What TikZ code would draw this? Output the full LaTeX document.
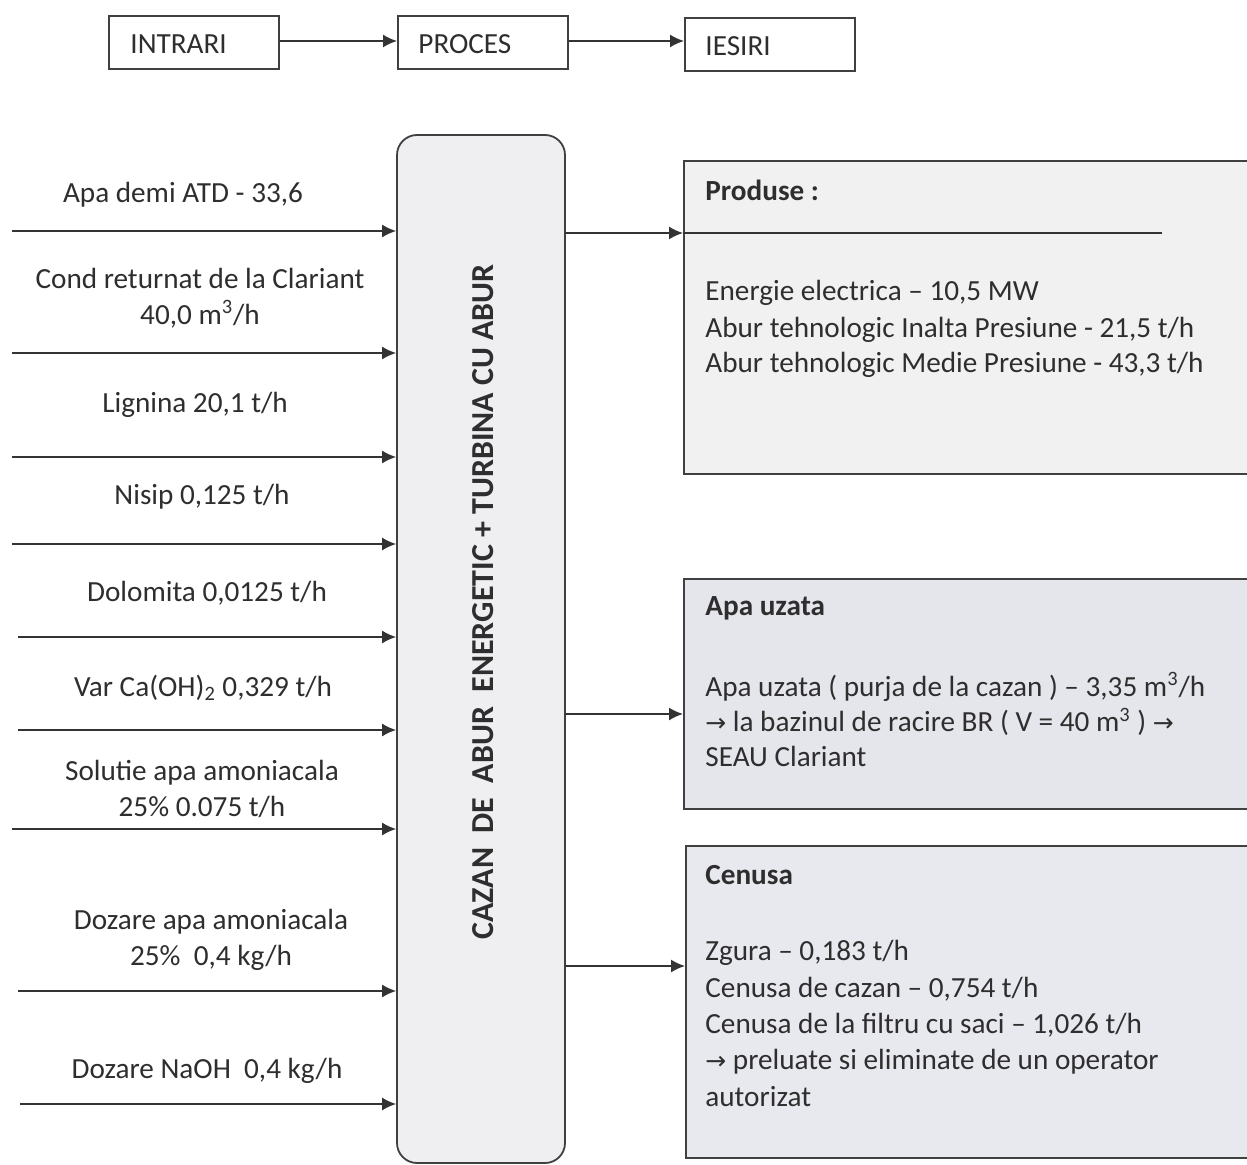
\documentclass[tikz,border=0pt]{standalone}
\usepackage{fontspec}
\setmainfont{Carlito}
\newfontfamily\arrfont{DejaVu Sans}
\usetikzlibrary{arrows.meta}
\newcommand{\ar}{{\arrfont\fontsize{12.5}{15}\selectfont →}}
\definecolor{procfill}{HTML}{EFEFF2}
\definecolor{prodfill}{HTML}{F1F1F1}
\definecolor{apafill}{HTML}{E5E5EC}
\definecolor{cenfill}{HTML}{E8E8EF}
\definecolor{ink}{HTML}{2E2E2E}
\begin{document}
\begin{tikzpicture}[x=0.5pt,y=-0.5pt,
  every node/.style={inner sep=0pt, text=ink},
  txt/.style={font=\fontsize{14.6}{18}\selectfont, align=center},
  rtxt/.style={font=\fontsize{14.6}{18}\selectfont, anchor=west},
  htxt/.style={font=\fontsize{14.6}{18}\selectfont\bfseries, anchor=west},
  topbox/.style={draw=black!75, line width=0.9pt, minimum width=85pt, minimum height=26.5pt, anchor=north west},
  outbox/.style={draw=black!75, line width=0.9pt, anchor=north west},
  arr/.style={draw=black!80, line width=0.8pt, -{Latex[length=7pt,width=6.5pt]}},
  ln/.style={draw=black!80, line width=0.8pt}
]
\clip (0,0) rectangle (1247,1165);
\fill[white] (0,0) rectangle (1247,1165);

% top row
\node[topbox] (tin) at (108,15) {};
\node[topbox] (tproc) at (397,15) {};
\node[topbox] (tout) at (684,17) {};
\node[txt, anchor=west] (tinl) at (130,44) {INTRARI};
\node[txt, anchor=west] (tprocl) at (418,44) {PROCES};
\node[txt, anchor=west] (toutl) at (705,46) {IESIRI};
\draw[arr] (tin.east |- 0,41) -- (tproc.west |- 0,41);
\draw[arr] (tproc.east |- 0,41) -- (tout.west |- 0,41);

% process box
\node[draw=black!75, line width=0.9pt, fill=procfill, rounded corners=10pt,
      minimum width=84pt, minimum height=514pt] (proc) at (481,649) {};
\node[rotate=90, font=\fontsize{16}{18}\selectfont\bfseries] (proct) at (483,602)
  {CAZAN\ \ DE\ \ ABUR\ \ ENERGETIC + TURBINA CU ABUR};

% output boxes
\node[outbox, fill=prodfill, minimum width=290pt, minimum height=156.5pt] (prod) at (683,160) {};
\node[outbox, fill=apafill, minimum width=290pt, minimum height=115pt] (apa) at (683,578) {};
\node[outbox, fill=cenfill, minimum width=290pt, minimum height=156pt] (cen) at (685,845) {};

% inputs
\coordinate (s1) at (12,231);
\coordinate (s2) at (12,353);
\coordinate (s3) at (12,457);
\coordinate (s4) at (12,544);
\coordinate (s5) at (18,637);
\coordinate (s6) at (18,730);
\coordinate (s7) at (12,829);
\coordinate (s8) at (18,991);
\coordinate (s9) at (20,1104);
\foreach \i in {1,...,9} {\draw[arr] (s\i) -- (s\i -| proc.west);}

\node[txt] (l1) at (183,195) {Apa demi ATD - 33,6};
\node[txt] (l2) at (200,298) {Cond returnat de la Clariant\\40,0 m\textsuperscript{3}/h};
\node[txt] (l3) at (195,405) {Lignina 20,1 t/h};
\node[txt] (l4) at (202,497) {Nisip 0,125 t/h};
\node[txt] (l5) at (207,593) {Dolomita 0,0125 t/h};
\node[txt] (l6) at (203,688) {Var Ca(OH)\textsubscript{2} 0,329 t/h};
\node[txt] (l7) at (202,789) {Solutie apa amoniacala\\25\% 0.075 t/h};
\node[txt] (l8) at (211,940) {Dozare apa amoniacala\\25\%\ \ 0,4 kg/h};
\node[txt] (l9) at (207,1071) {Dozare NaOH\ \ 0,4 kg/h};

% outputs arrows
\coordinate (o1) at (565,233);
\coordinate (o1e) at (1162,233);
\draw[arr] (o1) -- (o1 -| prod.west);
\draw[ln] (o1 -| prod.west) -- (o1e);
\coordinate (o2) at (565,714);
\draw[arr] (o2) -- (o2 -| apa.west);
\coordinate (o3) at (565,966);
\draw[arr] (o3) -- (o3 -| cen.west);

% output texts
\node[htxt] (p0) at (705,190) {Produse :};
\node[rtxt] (p1) at (705,293) {Energie electrica – 10,5 MW};
\node[rtxt] (p2) at (705,330) {Abur tehnologic Inalta Presiune - 21,5 t/h};
\node[rtxt] (p3) at (705,365) {Abur tehnologic Medie Presiune - 43,3 t/h};

\node[htxt] (a0) at (705,608) {Apa uzata};
\node[rtxt] (a1) at (705,687) {Apa uzata ( purja de la cazan ) – 3,35 m\textsuperscript{3}/h};
\node[rtxt] (a2) at (705,722) {\ar{} la bazinul de racire BR ( V = 40 m\textsuperscript{3} ) \ar};
\node[rtxt] (a3) at (705,756) {SEAU Clariant};

\node[htxt] (c0) at (705,875) {Cenusa};
\node[rtxt] (c1) at (705,953) {Zgura – 0,183 t/h};
\node[rtxt] (c2) at (705,989) {Cenusa de cazan – 0,754 t/h};
\node[rtxt] (c3) at (705,1025) {Cenusa de la filtru cu saci – 1,026 t/h};
\node[rtxt] (c4) at (705,1062) {\ar{} preluate si eliminate de un operator};
\node[rtxt] (c5) at (705,1097) {autorizat};
\end{tikzpicture}
\end{document}
